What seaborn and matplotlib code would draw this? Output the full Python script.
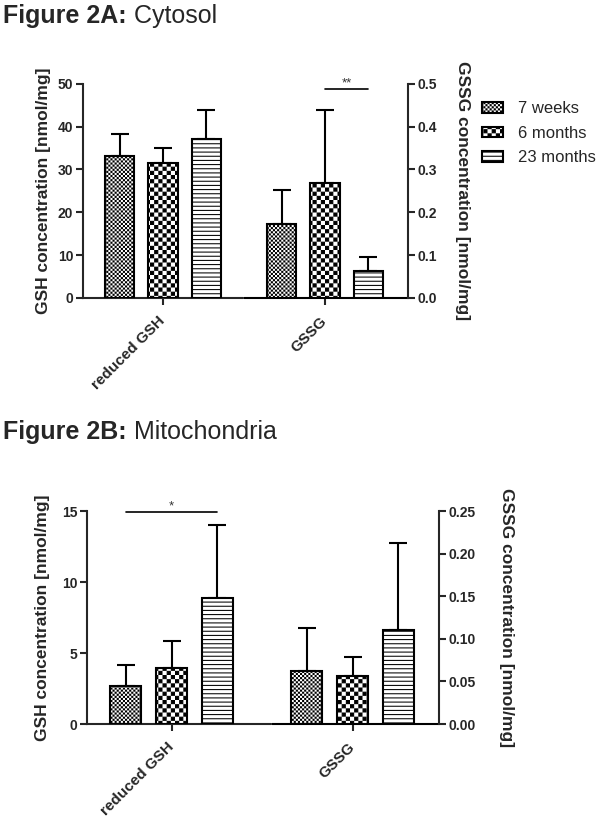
import warnings
warnings.filterwarnings("ignore")
import numpy as np
import pandas as pd
import matplotlib
matplotlib.use("Agg")
import matplotlib.pyplot as plt
import matplotlib.hatch as mhatch
from matplotlib.path import Path
from matplotlib.patches import Patch
from matplotlib.ticker import FormatStrFormatter
import seaborn as sns

# ---------------- data ----------------
groups = ["reduced GSH", "GSSG"]
ages = ["7 weeks", "6 months", "23 months"]

cyto_gsh_mean = [33.2, 31.5, 37.2]
cyto_gsh_sd = [5.2, 3.5, 6.6]
cyto_gssg_mean = [0.173, 0.269, 0.063]
cyto_gssg_sd = [0.079, 0.171, 0.033]

mito_gsh_mean = [2.68, 3.97, 8.90]
mito_gsh_sd = [1.47, 1.88, 5.10]
mito_gssg_mean = [0.0625, 0.056, 0.110]
mito_gssg_sd = [0.0505, 0.023, 0.103]

left_ticks_A = [0, 10, 20, 30, 40, 50]
right_ticks_A = [0.0, 0.1, 0.2, 0.3, 0.4, 0.5]
left_ticks_B = [0, 5, 10, 15]
right_ticks_B = [0.00, 0.05, 0.10, 0.15, 0.20, 0.25]

sig_A = ("GSSG", "6 months", "23 months", 0.488, "**")   # drawn on right axis
sig_B = ("reduced GSH", "7 weeks", "23 months", 14.9, "*")  # drawn on left axis

# ---------------- custom checkerboard hatch ----------------
HATCH_LW = 0.75
plt.rcParams["hatch.linewidth"] = HATCH_LW


class CheckerHatch(mhatch.HatchPatternBase):
    def __init__(self, hatch, density):
        self.n = int(hatch.count("c") * density) if hatch else 0
        self.num_vertices = (self.n * self.n // 2) * 5

    def set_vertices_and_codes(self, vertices, codes):
        n = self.n
        s = 1.0 / n
        sh = (HATCH_LW / 72.0) / 2.0  # compensate the stroke (tile = 72 pt)
        parts = []
        for i in range(n):
            for j in range(n):
                if (i + j) % 2 == 0:
                    x0, y0 = i * s + sh, j * s + sh
                    x1, y1 = (i + 1) * s - sh, (j + 1) * s - sh
                    parts.append([[x0, y0], [x1, y0], [x1, y1], [x0, y1], [x0, y0]])
        vertices[:] = np.array(parts).reshape(-1, 2)
        codes[:] = np.tile([Path.MOVETO, Path.LINETO, Path.LINETO,
                            Path.LINETO, Path.CLOSEPOLY], len(parts))


mhatch._hatch_types.append(CheckerHatch)
hatches = {"7 weeks": "cccccccc", "6 months": "cccc", "23 months": "----"}

# ---------------- style ----------------
sns.set_style("ticks")
plt.rcParams["font.family"] = ["Liberation Sans", "DejaVu Sans"]
plt.rcParams["axes.linewidth"] = 1.5
LW = 1.5
TICK_FS = 10
XT_FS = 11
YL_FS = 12.5

fig = plt.figure(figsize=(6.06, 8.30), dpi=100)


def make_df(means, sds, group):
    return pd.DataFrame({"group": group, "age": ages, "value": means, "sd": sds})


def panel(rect, gsh_m, gsh_s, gssg_m, gssg_s, xlim, width, gap, axis_gap,
          lticks, rticks, lfmt, rfmt, lylab_x, rylab_x, sig, sig_on_right):
    ax = fig.add_axes(rect)
    ax2 = ax.twinx()
    d1 = make_df(gsh_m, gsh_s, "reduced GSH")
    d2 = make_df(gssg_m, gssg_s, "GSSG")
    for a, d in ((ax, d1), (ax2, d2)):
        sns.barplot(data=d, x="group", y="value", hue="age", order=groups,
                    hue_order=ages, palette=["white"] * 3, width=width, gap=gap,
                    edgecolor="black", linewidth=LW, errorbar=None,
                    legend=False, ax=a, zorder=3)
        for cont, age in zip(a.containers, ages):
            for bar in cont:
                bar.set_hatch(hatches[age])
        # upper-only error bars
        for cont, (_, row) in zip(a.containers, d.iterrows()):
            bar = cont[0]
            xc = bar.get_x() + bar.get_width() / 2
            a.errorbar([xc], [row["value"]], yerr=[[0], [row["sd"]]], fmt="none",
                       ecolor="black", elinewidth=LW, capsize=6.5,
                       capthick=LW, zorder=2)
    ax.set_ylim(lticks[0], lticks[-1])
    ax2.set_ylim(rticks[0], rticks[-1])
    ax.set_yticks(lticks)
    ax2.set_yticks(rticks)
    ax.yaxis.set_major_formatter(FormatStrFormatter(lfmt))
    ax2.yaxis.set_major_formatter(FormatStrFormatter(rfmt))
    ax.set_xlim(*xlim)
    ax.set_xticks([0, 1])
    ax.set_xticklabels(groups, rotation=45, ha="right", va="center",
                       rotation_mode="anchor", fontsize=XT_FS, fontweight="bold")
    ax.tick_params(axis="x", length=5, width=LW, pad=10)
    ax.tick_params(axis="y", length=5, width=LW, labelsize=TICK_FS, pad=2)
    ax2.tick_params(axis="y", length=5, width=LW, labelsize=TICK_FS, pad=2)
    for lab in ax.get_yticklabels() + ax2.get_yticklabels():
        lab.set_fontweight("bold")
    for s in ("top", "right"):
        ax.spines[s].set_visible(False)
    for s in ("top", "left", "bottom"):
        ax2.spines[s].set_visible(False)
    ax.spines["bottom"].set_bounds(xlim[0], axis_gap[0])
    ax.axhline(0, xmin=(axis_gap[1] - xlim[0]) / (xlim[1] - xlim[0]), xmax=1,
               color="black", lw=LW, clip_on=False, zorder=4)
    ax.set_xlabel("")
    ax.set_ylabel("GSH concentration [nmol/mg]", fontsize=YL_FS,
                  fontweight="bold")
    ax.yaxis.set_label_coords(lylab_x, 0.5)
    ax2.set_ylabel("GSSG concentration [nmol/mg]", fontsize=YL_FS,
                   fontweight="bold", rotation=270, va="bottom")
    ax2.yaxis.set_label_coords(rylab_x, 0.5)
    # significance bar
    g, a1, a2, yv, star = sig
    tgt = ax2 if sig_on_right else ax
    c1 = tgt.containers[ages.index(a1)][0]
    c2 = tgt.containers[ages.index(a2)][0]
    x1 = c1.get_x() + c1.get_width() / 2
    x2 = c2.get_x() + c2.get_width() / 2
    tgt.plot([x1, x2], [yv, yv], color="black", lw=1.2, clip_on=False)
    tgt.text((x1 + x2) / 2, yv, star, ha="center", va="bottom", fontsize=9.5,
             color="#333333")
    return ax, ax2


axA, axA2 = panel([0.137, 0.641, 0.536, 0.258], cyto_gsh_mean, cyto_gsh_sd,
                  cyto_gssg_mean, cyto_gssg_sd, (-0.494, 1.512), 0.8, 0.325,
                  (0.49, 0.50), left_ticks_A, right_ticks_A, "%d", "%.1f",
                  -0.10, 1.145, sig_A, True)
axB, axB2 = panel([0.1436, 0.1277, 0.581, 0.2566], mito_gsh_mean, mito_gsh_sd,
                  mito_gssg_mean, mito_gssg_sd, (-0.467, 1.478), 0.76, 0.33,
                  (0.545, 0.555), left_ticks_B, right_ticks_B, "%d", "%.2f",
                  -0.105, 1.17, sig_B, False)

# legend
handles = [Patch(facecolor="white", edgecolor="black", hatch=hatches[a],
                 linewidth=LW, label=a) for a in ages]
fig.legend(handles=handles, loc="upper left", bbox_to_anchor=(0.795, 0.878),
           frameon=False, fontsize=12, handlelength=1.3, handleheight=0.6,
           handletextpad=0.9, labelspacing=0.57, borderpad=0, borderaxespad=0)

# titles
TITLE_FS = 18
for (y, bold, rest) in ((0.995, "Figure 2A:", " Cytosol"),
                        (0.4935, "Figure 2B:", " Mitochondria")):
    t = fig.text(0.005, y, bold, fontsize=TITLE_FS, fontweight="bold",
                 ha="left", va="top")
    fig.add_artist(plt.Annotation(rest, xy=(1, 0), xycoords=t,
                                  fontsize=TITLE_FS, ha="left", va="bottom"))

fig.savefig("out.png", dpi=100)
